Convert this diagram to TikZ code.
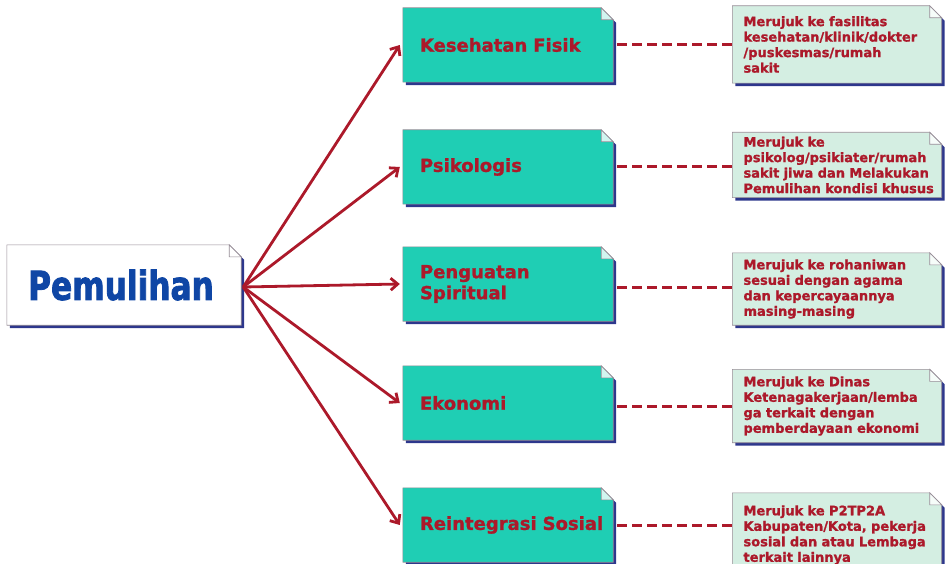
\documentclass[tikz,border=0pt]{standalone}
\usepackage{fontspec}
\setmainfont{DejaVu Sans}[BoldFeatures={FakeBold=1.2}]
\newfontfamily\judul{DejaVu Sans}[FakeStretch=0.78,BoldFeatures={FakeBold=2}]
\usetikzlibrary{arrows.meta,calc}

\definecolor{tosca}{RGB}{31,206,180}
\definecolor{mint}{RGB}{212,238,226}
\definecolor{bayang}{RGB}{45,55,140}
\definecolor{merah}{RGB}{172,25,42}
\definecolor{biru}{RGB}{15,70,165}
\definecolor{garis}{RGB}{150,140,150}

% kotak dengan sudut terlipat dan bayangan
\newcommand\lipat[2]{%
  \fill[bayang] ($(#1.south west)+(3,3)$) -- ($(#1.north west)+(3,3)$)
    -- ($(#1.north east)+(-9,3)$) -- ($(#1.north east)+(3,15)$)
    -- ($(#1.south east)+(3,3)$) -- cycle;
  \filldraw[fill=#2,draw=garis,line width=.6pt] (#1.south west) -- (#1.north west)
    -- ($(#1.north east)+(-12,0)$) -- ($(#1.north east)+(0,12)$)
    -- (#1.south east) -- cycle;
  \filldraw[fill=white!80!#2,draw=garis,line width=.6pt] ($(#1.north east)+(-12,0)$)
    -- ($(#1.north east)+(-12,12)$) -- ($(#1.north east)+(0,12)$) -- cycle;
}

\begin{document}
\begin{tikzpicture}[x=1pt,y=-1pt,
    induk/.style={minimum width=234pt,minimum height=80pt,inner sep=0pt},
    aspek/.style={minimum width=210pt,minimum height=74pt,text width=176pt,
      align=left,inner sep=0pt,font=\bfseries\fontsize{18}{21}\selectfont,text=merah},
    ket/.style={minimum width=209pt,text width=195pt,align=left,inner sep=0pt,
      font=\bfseries\fontsize{13}{15.5}\selectfont,text=merah},
    panah/.style={-{Straight Barb[length=7pt,width=12pt,line width=2.8pt]},merah,line width=2.8pt},
    putus/.style={merah,line width=3pt,dash pattern=on 10pt off 5pt}]

  \useasboundingbox (0,0) rectangle (950,564);

  % the boxes
  \node[induk] (pemulihan) at (124,285) {};
  \node[aspek] (fisik) at (508,45) {};
  \node[aspek] (psikologis) at (508,167) {};
  \node[aspek] (spiritual) at (508,284) {};
  \node[aspek] (ekonomi) at (508,403) {};
  \node[aspek] (sosial) at (508,525) {};

  \node[ket,minimum height=77pt] (kFisik) at (837,44.5) {};
  \node[ket,minimum height=65pt] (kPsikologis) at (837,165) {};
  \node[ket,minimum height=72pt] (kSpiritual) at (837,289) {};
  \node[ket,minimum height=73pt] (kEkonomi) at (837,406) {};
  \node[ket,minimum height=76pt] (kSosial) at (837,531) {};

  \lipat{pemulihan}{white}
  \foreach \n in {fisik,psikologis,spiritual,ekonomi,sosial}
    {\lipat{\n}{tosca}}
  \foreach \n in {kFisik,kPsikologis,kSpiritual,kEkonomi,kSosial}
    {\lipat{\n}{mint}}

  % the texts
  \node[font=\judul\bfseries\fontsize{40}{44}\selectfont,text=biru,xshift=-3pt] at (pemulihan) {Pemulihan};
  \node[aspek] at (fisik) {Kesehatan Fisik};
  \node[aspek] at (psikologis) {Psikologis};
  \node[aspek] at (spiritual) {Penguatan\\Spiritual};
  \node[aspek] at (ekonomi) {Ekonomi};
  \node[aspek,text width=190pt,xshift=7pt] at (sosial) {Reintegrasi Sosial};

  \node[ket,xshift=4pt] at (kFisik) {Merujuk ke fasilitas\\kesehatan/klinik/dokter\\/puskesmas/rumah\\sakit};
  \node[ket,xshift=4pt] at (kPsikologis) {Merujuk ke\\psikolog/psikiater/rumah\\sakit jiwa dan Melakukan\\Pemulihan kondisi khusus};
  \node[ket,xshift=4pt] at (kSpiritual) {Merujuk ke rohaniwan\\sesuai dengan agama\\dan kepercayaannya\\masing-masing};
  \node[ket,xshift=4pt] at (kEkonomi) {Merujuk ke Dinas\\Ketenagakerjaan/lemba\\ga terkait dengan\\pemberdayaan ekonomi};
  \node[ket,xshift=4pt,yshift=-4pt] at (kSosial) {Merujuk ke P2TP2A\\Kabupaten/Kota, pekerja\\sosial dan atau Lembaga\\terkait lainnya};

  % the arrows
  \coordinate (pusat) at ($(pemulihan.east)+(2,2)$);
  \foreach \n in {fisik,psikologis,spiritual,ekonomi,sosial}
    {\draw[panah] (pusat) -- ($(\n.west)+(-3,0)$);}

  \draw[putus] ($(fisik.east)+(4,0)$) -- (fisik.east -| kFisik.west);
  \draw[putus] ($(psikologis.east)+(4,0)$) -- (psikologis.east -| kPsikologis.west);
  \draw[putus] ($(spiritual.east)+(4,3)$) -- ($(spiritual.east -| kSpiritual.west)+(0,3)$);
  \draw[putus] ($(ekonomi.east)+(4,3)$) -- ($(ekonomi.east -| kEkonomi.west)+(0,3)$);
  \draw[putus] ($(sosial.east)+(4,0)$) -- (sosial.east -| kSosial.west);
\end{tikzpicture}
\end{document}
